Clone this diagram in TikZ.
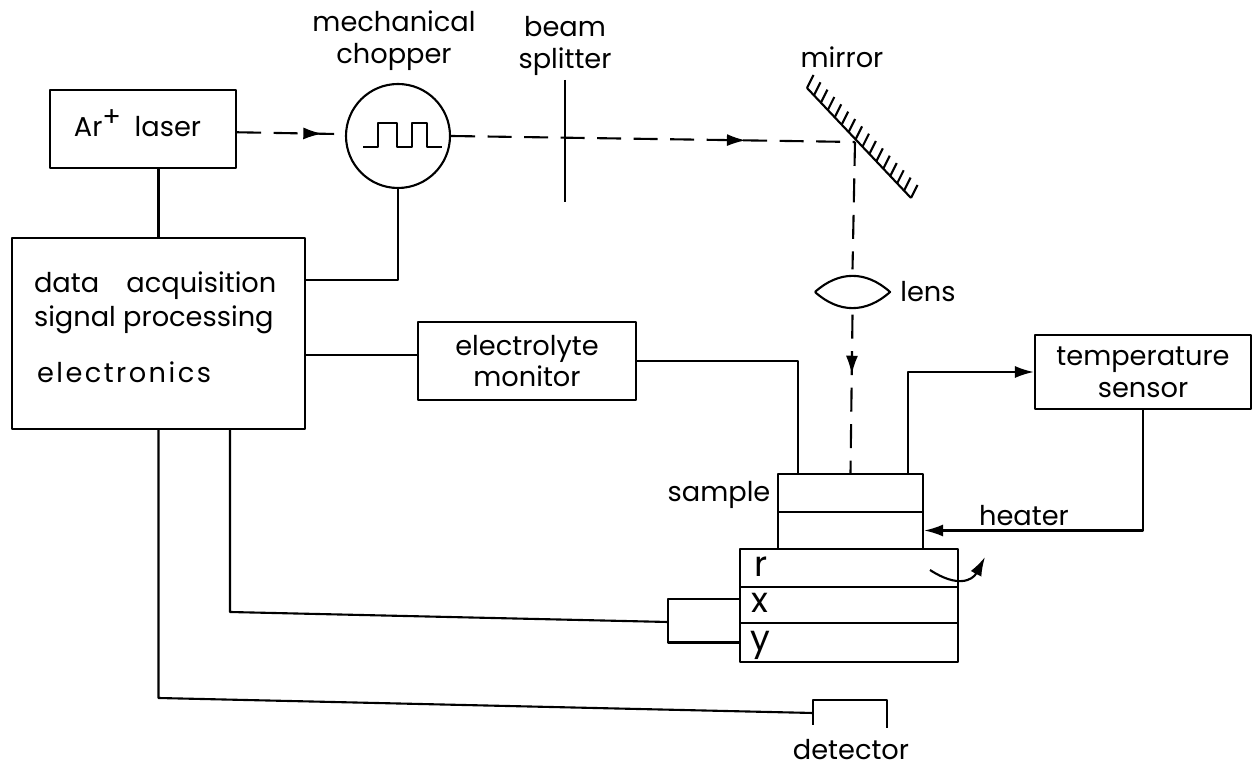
\documentclass[tikz,border=0pt]{standalone}
\usepackage{fontspec}
\setmainfont{Poppins}
\usetikzlibrary{arrows.meta,calc,decorations.markings}

\begin{document}
\begin{tikzpicture}[line width=1.2pt,line join=round,
  lbl/.style={font=\fontsize{15.5}{18}\selectfont,align=center,inner sep=0pt},
  axislbl/.style={font=\fontsize{20}{24}\selectfont,inner sep=0pt},
  box/.style={draw,rectangle,inner sep=0pt,align=center,font=\fontsize{15.5}{18}\selectfont},
  a/.style={-{Latex[length=3.8mm,width=2.4mm]}},
  beam/.style={dash pattern=on .48cm off .25cm},
  beamtip/.style={postaction={decorate,decoration={markings,mark=at position #1 with {\arrow{Latex[length=3.8mm,width=2.4mm]}}}}}]
\useasboundingbox (0,0) rectangle (25.06,15.36);
% boxes
\node[box,minimum width=3.72cm,minimum height=1.56cm] (laser) at (2.86,12.78) {};
\node[box,circle,minimum size=2.08cm] (chopper) at (7.96,12.64) {};
\node[box,minimum width=5.86cm,minimum height=3.82cm] (data) at (3.17,8.69) {};
\node[box,minimum width=4.36cm,minimum height=1.56cm] (monitor) at (10.54,8.14) {electrolyte\\monitor};
\node[box,minimum width=4.32cm,minimum height=1.48cm] (sensor) at (22.86,7.92) {temperature\\sensor};
\node[box,minimum width=2.9cm,minimum height=.76cm] (sampletop) at (17.01,5.5) {};
\node[box,minimum width=2.9cm,minimum height=.74cm] (samplebot) at (17.01,4.75) {};
\node[box,minimum width=4.36cm,minimum height=.76cm] (stager) at (16.98,4) {};
\node[box,minimum width=4.36cm,minimum height=.72cm] (stagex) at (16.98,3.26) {};
\node[box,minimum width=4.36cm,minimum height=.78cm] (stagey) at (16.98,2.51) {};
\node[minimum width=1.46cm,minimum height=.86cm,inner sep=0pt] (lens) at (17.05,9.52) {};
% labels
\node[lbl] (laserlbl) at (2.75,12.9) {Ar\raisebox{.7ex}{+}\enspace laser};
\node[lbl] (choplbl) at (7.88,14.54) {mechanical\\chopper};
\node[lbl] (splitlbl) at (11.3,14.44) {beam\\splitter};
\node[lbl] (mirrorlbl) at (16.84,14.22) {mirror};
\node[lbl] (lenslbl) at (18.56,9.52) {lens};
\node[lbl] (samplelbl) at (14.38,5.46) {sample};
\node[lbl] (heaterlbl) at (20.48,5.04) {heater};
\node[lbl] (detlbl) at (17.02,.36) {detector};
\node[lbl,anchor=base west] (acq) at (.66,9.5) {data\quad acquisition};
\node[lbl,anchor=base west] (sig) at (.66,8.82) {signal processing};
\node[lbl,anchor=base west] (elec) at (.72,7.7) {\addfontfeatures{LetterSpace=9}electronics};
\node[axislbl] (rlbl) at (15.22,4.02) {r};
\node[axislbl] (xlbl) at (15.2,3.3) {x};
\node[axislbl] (ylbl) at (15.2,2.46) {y};
% free ends
\coordinate (splittop) at (11.3,13.76);
\coordinate (splitbot) at (11.3,11.32);
\coordinate (mirA) at (16.14,13.6);
\coordinate (mirB) at (18.22,11.4);
\coordinate (hit) at (17.1,12.52);
\coordinate (elyte) at (15.96,5.88);
\coordinate (therm) at (18.16,5.88);
\coordinate (feedtop) at (4.6,6.77);
\coordinate (feedbend) at (4.6,3.12);
\coordinate (feedend) at (13.36,2.92);
\coordinate (detbend) at (3.17,1.4);
\coordinate (detL) at (16.26,1.1);
% beam
\draw[beam,beamtip=.79] (laser.-2)--(chopper.178);
\draw[beam,beamtip=.73] (chopper.east)--(hit);
\draw[beam] (hit)--(lens.north);
\draw[beam,beamtip=.38] (lens.south)--(sampletop.north);
\draw (splittop)--(splitbot);
% mirror
\draw (mirA)--(mirB);
\foreach \i in {0,...,15}
  \draw ($(mirA)!\i/15!(mirB)$)--++(.13,.26);
% lens
\draw (lens.west) .. controls +(.48,.43) and +(-.48,.43) .. (lens.east) .. controls +(-.48,-.43) and +(.48,-.43) .. (lens.west);
% chopper wave
\draw (7.26,12.42)--(7.56,12.42)--(7.56,12.9)--(7.94,12.9)--(7.94,12.42)--(8.24,12.42)--(8.24,12.9)--(8.54,12.9)--(8.54,12.42)--(8.84,12.42);
% wiring
\draw (data.north)--(data.north|-laser.south);
\draw (chopper.south)|-(data.20);
\draw (monitor.177)--(monitor.177-|data.east);
\draw (monitor.east)-|(elyte);
\draw[a] (therm)|-(sensor.west);
\draw[a] (sensor.south)|-(samplebot.east);
\draw (feedtop)--(feedbend)--(feedend);
\draw (stagex.177)-|(feedend)|-(stagey.west);
\draw (data.south)--(detbend)--(detL);
\draw (16.26,.86)--(16.26,1.36)--(17.74,1.36)--(17.74,.8);
% rotation
\draw[a] (18.6,3.96) .. controls (19.15,3.6) and (19.45,3.75) .. (19.7,4.22);
\end{tikzpicture}
\end{document}
